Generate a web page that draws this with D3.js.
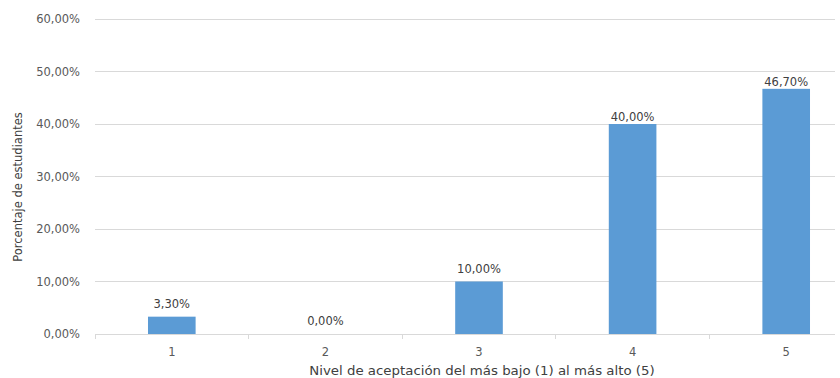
<!DOCTYPE html>
<html>
<head>
<meta charset="utf-8">
<script src="https://cdn.jsdelivr.net/npm/d3@7"></script>
<style>
  html, body { margin: 0; padding: 0; background: #fff; }
  svg { display: block; font-family: "DejaVu Sans", sans-serif; }
</style>
</head>
<body>
<svg id="chart" width="840" height="378"></svg>
<script>
// Acceptance level (1 = lowest, 5 = highest) and share of students
const categories = ["1", "2", "3", "4", "5"];
const values = [3.3, 0.0, 10.0, 40.0, 46.7];
const yTicks = [0, 10, 20, 30, 40, 50, 60];
const xTitle = "Nivel de aceptación del más bajo (1) al más alto (5)";
const yTitle = "Porcentaje de estudiantes";

const fmt = v => d3.format(".2f")(v).replace(".", ",") + "%";

const svg = d3.select("#chart");
const plot = { left: 95, right: 863, top: 19, bottom: 334, gridRight: 835 };

const x = d3.scaleBand()
  .domain(categories)
  .range([plot.left, plot.right])
  .paddingInner(0.69)
  .paddingOuter(0.345);

const y = d3.scaleLinear()
  .domain([0, 60])
  .range([plot.bottom, plot.top]);

// horizontal gridlines
svg.append("g")
  .selectAll("line")
  .data(yTicks.filter(t => t > 0))
  .join("line")
  .attr("x1", plot.left).attr("x2", plot.gridRight)
  .attr("y1", d => y(d)).attr("y2", d => y(d))
  .attr("stroke", "#d9d9d9").attr("stroke-width", 1)
  .attr("shape-rendering", "crispEdges");

// y axis labels
svg.append("g")
  .selectAll("text")
  .data(yTicks)
  .join("text")
  .attr("x", 80)
  .attr("y", d => y(d))
  .attr("dy", "0.35em")
  .attr("text-anchor", "end")
  .attr("font-size", 11.5)
  .attr("fill", "#595959")
  .text(d => fmt(d));

// bars
svg.append("g")
  .selectAll("rect")
  .data(values)
  .join("rect")
  .attr("x", (d, i) => x(categories[i]))
  .attr("width", x.bandwidth())
  .attr("y", d => y(d))
  .attr("height", d => y(0) - y(d))
  .attr("fill", "#5b9bd5");

// x axis baseline and band boundary ticks
const step = x.step();
const boundaries = categories.map(c => x(c) - (step - x.bandwidth()) / 2);
svg.append("line")
  .attr("x1", plot.left).attr("x2", plot.gridRight)
  .attr("y1", y(0)).attr("y2", y(0))
  .attr("stroke", "#d9d9d9").attr("stroke-width", 1)
  .attr("shape-rendering", "crispEdges");
svg.append("g")
  .selectAll("line")
  .data(boundaries)
  .join("line")
  .attr("x1", d => d).attr("x2", d => d)
  .attr("y1", y(0)).attr("y2", y(0) + 5)
  .attr("stroke", "#d9d9d9")
  .attr("shape-rendering", "crispEdges");

// x axis category labels
svg.append("g")
  .selectAll("text")
  .data(categories)
  .join("text")
  .attr("x", d => x(d) + x.bandwidth() / 2)
  .attr("y", 356)
  .attr("text-anchor", "middle")
  .attr("font-size", 11.5)
  .attr("fill", "#595959")
  .text(d => d);

// value labels above bars
svg.append("g")
  .selectAll("text")
  .data(values)
  .join("text")
  .attr("x", (d, i) => x(categories[i]) + x.bandwidth() / 2)
  .attr("y", d => y(d) - (d >= 40 ? 3 : 9))
  .attr("text-anchor", "middle")
  .attr("font-size", 11.5)
  .attr("fill", "#404040")
  .text(d => fmt(d));

// axis titles (x title drawn slightly widened)
svg.append("text")
  .attr("transform", "translate(482,375) scale(1.16,1)")
  .attr("text-anchor", "middle")
  .attr("font-size", 11.5)
  .attr("fill", "#404040")
  .text(xTitle);

svg.append("text")
  .attr("transform", "translate(22,187) rotate(-90)")
  .attr("text-anchor", "middle")
  .attr("font-size", 11.5)
  .attr("fill", "#404040")
  .text(yTitle);
</script>
</body>
</html>
